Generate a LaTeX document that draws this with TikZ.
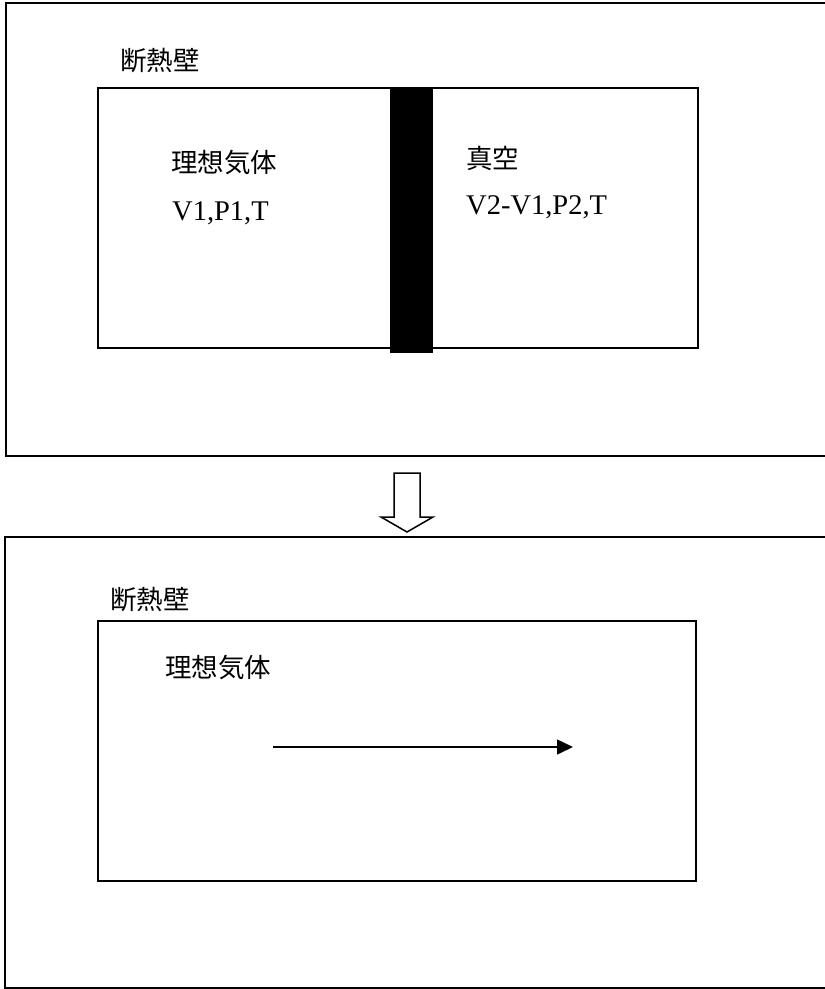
\documentclass[tikz,border=0pt]{standalone}
\usepackage{fontspec}
\setmainfont{Liberation Serif}
\newfontfamily\cjk{Noto Sans CJK JP}
\usetikzlibrary{arrows.meta}
\begin{document}
\begin{tikzpicture}[x=1pt,y=-1pt,
  wall/.style={draw=black,line width=1.5pt},
  lbl/.style={anchor=west,inner sep=0pt,font=\cjk\fontsize{26.5}{30}\selectfont},
  val/.style={anchor=base west,inner sep=0pt,font=\fontsize{28.5}{32}\selectfont},
  flow/.style={line width=1.5pt,-{Triangle[length=16pt,width=15pt]}}]
\useasboundingbox (0,0) rectangle (825,989);
\fill[white] (0,0) rectangle (825,989);
% top outer box (right side beyond the picture)
\draw[wall] (830,3) -- (6,3) -- (6,456) -- (830,456);
\node[lbl] (t1) at (120,61) {断熱壁};
\node[wall,draw,rectangle,minimum width=600pt,minimum height=260pt,anchor=north west,inner sep=0pt] (box1) at (97,87) {};
\fill[black] (390,87) rectangle (433,353);
\node[lbl] (gas1) at (171,163) {理想気体};
\node[val] (v1) at (172,220) {V1,P1,T};
\node[lbl] (vac) at (466,158) {真空};
\node[val] (v2) at (466,214) {V2-V1,P2,T};
% hollow down arrow
\draw[line width=1.5pt,fill=white,line join=miter] (394,473) -- (420,473) -- (420,517) -- (433,517) -- (407,532) -- (381,517) -- (394,517) -- cycle;
% bottom outer box
\draw[wall] (830,537) -- (5,537) -- (5,988) -- (830,988);
\node[lbl] (t2) at (110,600) {断熱壁};
\node[wall,draw,rectangle,minimum width=598pt,minimum height=260pt,anchor=north west,inner sep=0pt] (box2) at (97,620) {};
\node[lbl] (gas2) at (165,667) {理想気体};
\coordinate (a1) at (273,747);
\coordinate (a2) at (573,747);
\draw[flow] (a1) -- (a2);
\end{tikzpicture}
\end{document}
